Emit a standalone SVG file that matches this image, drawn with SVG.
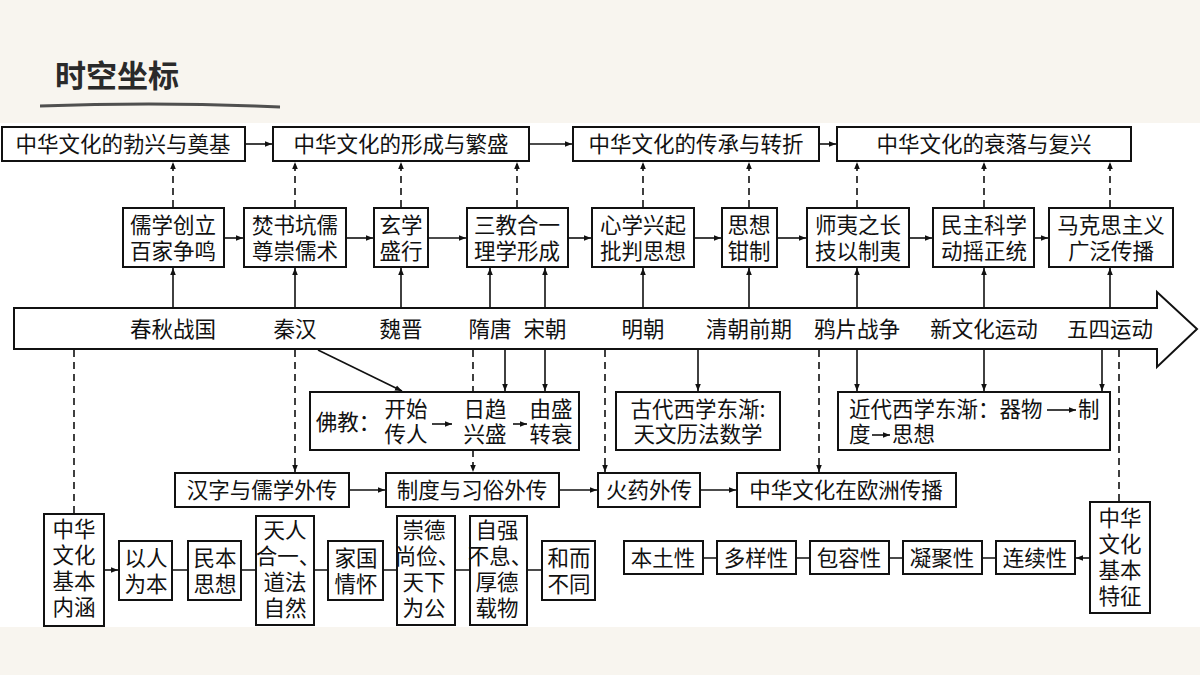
<svg xmlns="http://www.w3.org/2000/svg" width="1200" height="675" viewBox="0 0 1200 675">
<defs>
<marker id="a" viewBox="0 0 10 10" refX="10" refY="5" markerWidth="7" markerHeight="7" markerUnits="userSpaceOnUse" orient="auto"><path d="M0,1 L10,5 L0,9 z" fill="#111"/></marker>
<style>
rect.b{fill:#fff;stroke:#111;stroke-width:2}
text{font-family:"Noto Sans CJK SC","Noto Sans",sans-serif;font-size:21.5px;fill:#111;text-anchor:middle}
.c line,.c path{stroke:#111;stroke-width:1.6;fill:none}
.d{stroke-dasharray:7,5}
</style>
</defs>
<rect width="1200" height="675" fill="#f8f5ef"/>
<rect x="0" y="123" width="1200" height="504" fill="#fff"/>
<text x="55" y="87" style="font-size:31px;font-weight:bold;fill:#2a2a2a;text-anchor:start">时空坐标</text>
<path d="M40,106 Q150,102 255,106 L280,107" stroke="#333" stroke-width="3" fill="none" opacity="0.85"/>

<g id="band"><path d="M14,308 H1157 V292 L1197,329 L1157,367 V349 H14 Z" fill="#fff" stroke="#111" stroke-width="2"/>
<text x="173" y="337">春秋战国</text><text x="295" y="337">秦汉</text><text x="401" y="337">魏晋</text><text x="490" y="337">隋唐</text><text x="545" y="337">宋朝</text><text x="643" y="337">明朝</text><text x="749" y="337">清朝前期</text><text x="857" y="337">鸦片战争</text><text x="984" y="337">新文化运动</text><text x="1110" y="337">五四运动</text></g>

<g id="t1"><rect class="b" x="2" y="127" width="243" height="34"/><text x="123" y="152">中华文化的勃兴与奠基</text></g>
<g id="t2"><rect class="b" x="273" y="127" width="256" height="34"/><text x="401" y="152">中华文化的形成与繁盛</text></g>
<g id="t3"><rect class="b" x="573" y="127" width="246" height="34"/><text x="696" y="152">中华文化的传承与转折</text></g>
<g id="t4"><rect class="b" x="837" y="127" width="294" height="34"/><text x="984" y="152">中华文化的衰落与复兴</text></g>

<g id="m1"><rect class="b" x="123" y="208" width="101" height="59"/><text x="173" y="233">儒学创立</text><text x="173" y="259">百家争鸣</text></g>
<g id="m2"><rect class="b" x="244" y="208" width="102" height="59"/><text x="295" y="233">焚书坑儒</text><text x="295" y="259">尊崇儒术</text></g>
<g id="m3"><rect class="b" x="374" y="208" width="54" height="59"/><text x="401" y="233">玄学</text><text x="401" y="259">盛行</text></g>
<g id="m4"><rect class="b" x="467" y="208" width="101" height="59"/><text x="517" y="233">三教合一</text><text x="517" y="259">理学形成</text></g>
<g id="m5"><rect class="b" x="592" y="208" width="102" height="59"/><text x="643" y="233">心学兴起</text><text x="643" y="259">批判思想</text></g>
<g id="m6"><rect class="b" x="722" y="208" width="55" height="59"/><text x="749" y="233">思想</text><text x="749" y="259">钳制</text></g>
<g id="m7"><rect class="b" x="807" y="208" width="102" height="59"/><text x="858" y="233">师夷之长</text><text x="858" y="259">技以制夷</text></g>
<g id="m8"><rect class="b" x="933" y="208" width="101" height="59"/><text x="984" y="233">民主科学</text><text x="984" y="259">动摇正统</text></g>
<g id="m9"><rect class="b" x="1049" y="208" width="124" height="59"/><text x="1111" y="233">马克思主义</text><text x="1111" y="259">广泛传播</text></g>

<g id="fo"><rect class="b" x="310" y="392" width="269" height="58"/><text x="348" y="430">佛教：</text><text x="406" y="417">开始</text><text x="406" y="442">传人</text><text x="485" y="417">日趋</text><text x="485" y="442">兴盛</text><text x="551" y="417">由盛</text><text x="551" y="442">转衰</text></g>
<g id="gd"><rect class="b" x="616" y="392" width="164" height="58"/><text x="698" y="417">古代西学东渐:</text><text x="698" y="442">天文历法数学</text></g>
<g id="jd"><rect class="b" x="838" y="392" width="272" height="58"/><text x="849" y="417" style="text-anchor:start">近代西学东渐：器物</text><text x="1078" y="417" style="text-anchor:start">制</text><text x="849" y="442" style="text-anchor:start">度</text><text x="892" y="442" style="text-anchor:start">思想</text></g>

<g id="w1"><rect class="b" x="175" y="473" width="174" height="34"/><text x="262" y="498">汉字与儒学外传</text></g>
<g id="w2"><rect class="b" x="386" y="473" width="173" height="34"/><text x="472" y="498">制度与习俗外传</text></g>
<g id="w3"><rect class="b" x="598" y="473" width="102" height="34"/><text x="649" y="498">火药外传</text></g>
<g id="w4"><rect class="b" x="737" y="473" width="219" height="34"/><text x="846" y="498">中华文化在欧洲传播</text></g>

<g id="n0"><rect class="b" x="44" y="514" width="60" height="112"/><text x="74" y="537">中华</text><text x="74" y="563">文化</text><text x="74" y="589">基本</text><text x="74" y="615">内涵</text></g>
<g id="n1"><rect class="b" x="119" y="541" width="53" height="59"/><text x="146" y="566">以人</text><text x="146" y="592">为本</text></g>
<g id="n2"><rect class="b" x="188" y="541" width="53" height="59"/><text x="215" y="566">民本</text><text x="215" y="592">思想</text></g>
<g id="n3"><rect class="b" x="256" y="516" width="58" height="109"/><text x="285" y="538">天人</text><text x="288" y="564">合一、</text><text x="285" y="590">道法</text><text x="285" y="616">自然</text></g>
<g id="n4"><rect class="b" x="328" y="541" width="55" height="59"/><text x="356" y="566">家国</text><text x="356" y="592">情怀</text></g>
<g id="n5"><rect class="b" x="397" y="516" width="58" height="109"/><text x="424" y="538">崇德</text><text x="427" y="564">尚俭、</text><text x="424" y="590">天下</text><text x="424" y="616">为公</text></g>
<g id="n6"><rect class="b" x="470" y="516" width="57" height="109"/><text x="497" y="538">自强</text><text x="500" y="564">不息、</text><text x="497" y="590">厚德</text><text x="497" y="616">载物</text></g>
<g id="n7"><rect class="b" x="542" y="541" width="53" height="59"/><text x="569" y="566">和而</text><text x="569" y="592">不同</text></g>

<g id="f0"><rect class="b" x="1090" y="502" width="60" height="111"/><text x="1120" y="526">中华</text><text x="1120" y="552">文化</text><text x="1120" y="578">基本</text><text x="1120" y="604">特征</text></g>
<g id="f1"><rect class="b" x="624" y="541" width="79" height="33"/><text x="663" y="566">本土性</text></g>
<g id="f2"><rect class="b" x="717" y="541" width="79" height="33"/><text x="756" y="566">多样性</text></g>
<g id="f3"><rect class="b" x="810" y="541" width="79" height="33"/><text x="849" y="566">包容性</text></g>
<g id="f4"><rect class="b" x="903" y="541" width="79" height="33"/><text x="942" y="566">凝聚性</text></g>
<g id="f5"><rect class="b" x="996" y="541" width="79" height="33"/><text x="1035" y="566">连续性</text></g>

<g class="c" id="connectors">
<line x1="245" y1="144" x2="272" y2="144" marker-end="url(#a)"/>
<line x1="529" y1="144" x2="572" y2="144" marker-end="url(#a)"/>
<line x1="819" y1="144" x2="836" y2="144" marker-end="url(#a)"/>
<line x1="224" y1="238" x2="243" y2="238" marker-end="url(#a)"/>
<line x1="346" y1="238" x2="373" y2="238" marker-end="url(#a)"/>
<line x1="428" y1="238" x2="466" y2="238" marker-end="url(#a)"/>
<line x1="568" y1="238" x2="591" y2="238" marker-end="url(#a)"/>
<line x1="694" y1="238" x2="721" y2="238" marker-end="url(#a)"/>
<line x1="777" y1="238" x2="806" y2="238" marker-end="url(#a)"/>
<line x1="909" y1="238" x2="932" y2="238" marker-end="url(#a)"/>
<line x1="1034" y1="238" x2="1048" y2="238" marker-end="url(#a)"/>
<g class="d">
<line x1="173" y1="207" x2="173" y2="162" marker-end="url(#a)"/>
<line x1="295" y1="207" x2="295" y2="162" marker-end="url(#a)"/>
<line x1="401" y1="207" x2="401" y2="162" marker-end="url(#a)"/>
<line x1="517" y1="207" x2="517" y2="162" marker-end="url(#a)"/>
<line x1="643" y1="207" x2="643" y2="162" marker-end="url(#a)"/>
<line x1="749" y1="207" x2="749" y2="162" marker-end="url(#a)"/>
<line x1="857" y1="207" x2="857" y2="162" marker-end="url(#a)"/>
<line x1="984" y1="207" x2="984" y2="162" marker-end="url(#a)"/>
<line x1="1110" y1="207" x2="1110" y2="162" marker-end="url(#a)"/>
<line x1="74" y1="350" x2="74" y2="514"/>
<line x1="295" y1="350" x2="295" y2="472" marker-end="url(#a)"/>
<line x1="473" y1="350" x2="473" y2="392"/>
<line x1="473" y1="450" x2="473" y2="472" marker-end="url(#a)"/>
<line x1="605" y1="350" x2="605" y2="472" marker-end="url(#a)"/>
<line x1="819" y1="350" x2="819" y2="472" marker-end="url(#a)"/>
<line x1="1119" y1="350" x2="1119" y2="502"/>
</g>
<line x1="173" y1="308" x2="173" y2="268" marker-end="url(#a)"/>
<line x1="295" y1="308" x2="295" y2="268" marker-end="url(#a)"/>
<line x1="401" y1="308" x2="401" y2="268" marker-end="url(#a)"/>
<line x1="490" y1="308" x2="490" y2="268" marker-end="url(#a)"/>
<line x1="545" y1="308" x2="545" y2="268" marker-end="url(#a)"/>
<line x1="643" y1="308" x2="643" y2="268" marker-end="url(#a)"/>
<line x1="749" y1="308" x2="749" y2="268" marker-end="url(#a)"/>
<line x1="857" y1="308" x2="857" y2="268" marker-end="url(#a)"/>
<line x1="984" y1="308" x2="984" y2="268" marker-end="url(#a)"/>
<line x1="1110" y1="308" x2="1110" y2="268" marker-end="url(#a)"/>
<line x1="318" y1="350" x2="402" y2="391" marker-end="url(#a)"/>
<line x1="505" y1="350" x2="505" y2="391" marker-end="url(#a)"/>
<line x1="545" y1="350" x2="545" y2="391" marker-end="url(#a)"/>
<line x1="698" y1="350" x2="698" y2="391" marker-end="url(#a)"/>
<line x1="857" y1="350" x2="857" y2="391" marker-end="url(#a)"/>
<line x1="984" y1="350" x2="984" y2="391" marker-end="url(#a)"/>
<line x1="1102" y1="350" x2="1102" y2="391" marker-end="url(#a)"/>
<line x1="432" y1="424" x2="452" y2="424" marker-end="url(#a)"/>
<line x1="513" y1="424" x2="527" y2="424" marker-end="url(#a)"/>
<line x1="1047" y1="410" x2="1076" y2="410" marker-end="url(#a)"/>
<line x1="872" y1="435" x2="890" y2="435" marker-end="url(#a)"/>
<line x1="349" y1="490" x2="385" y2="490" marker-end="url(#a)"/>
<line x1="559" y1="490" x2="597" y2="490" marker-end="url(#a)"/>
<line x1="700" y1="490" x2="736" y2="490" marker-end="url(#a)"/>
<line x1="104" y1="570" x2="118" y2="570" marker-end="url(#a)"/>
<path d="M172,570 H188 M241,570 H256 M314,570 H328 M383,570 H397 M455,570 H470 M527,570 H542"/>
<line x1="1090" y1="558" x2="1076" y2="558" marker-end="url(#a)"/>
<path d="M703,558 H717 M796,558 H810 M889,558 H903 M982,558 H996"/>
</g>
</svg>
